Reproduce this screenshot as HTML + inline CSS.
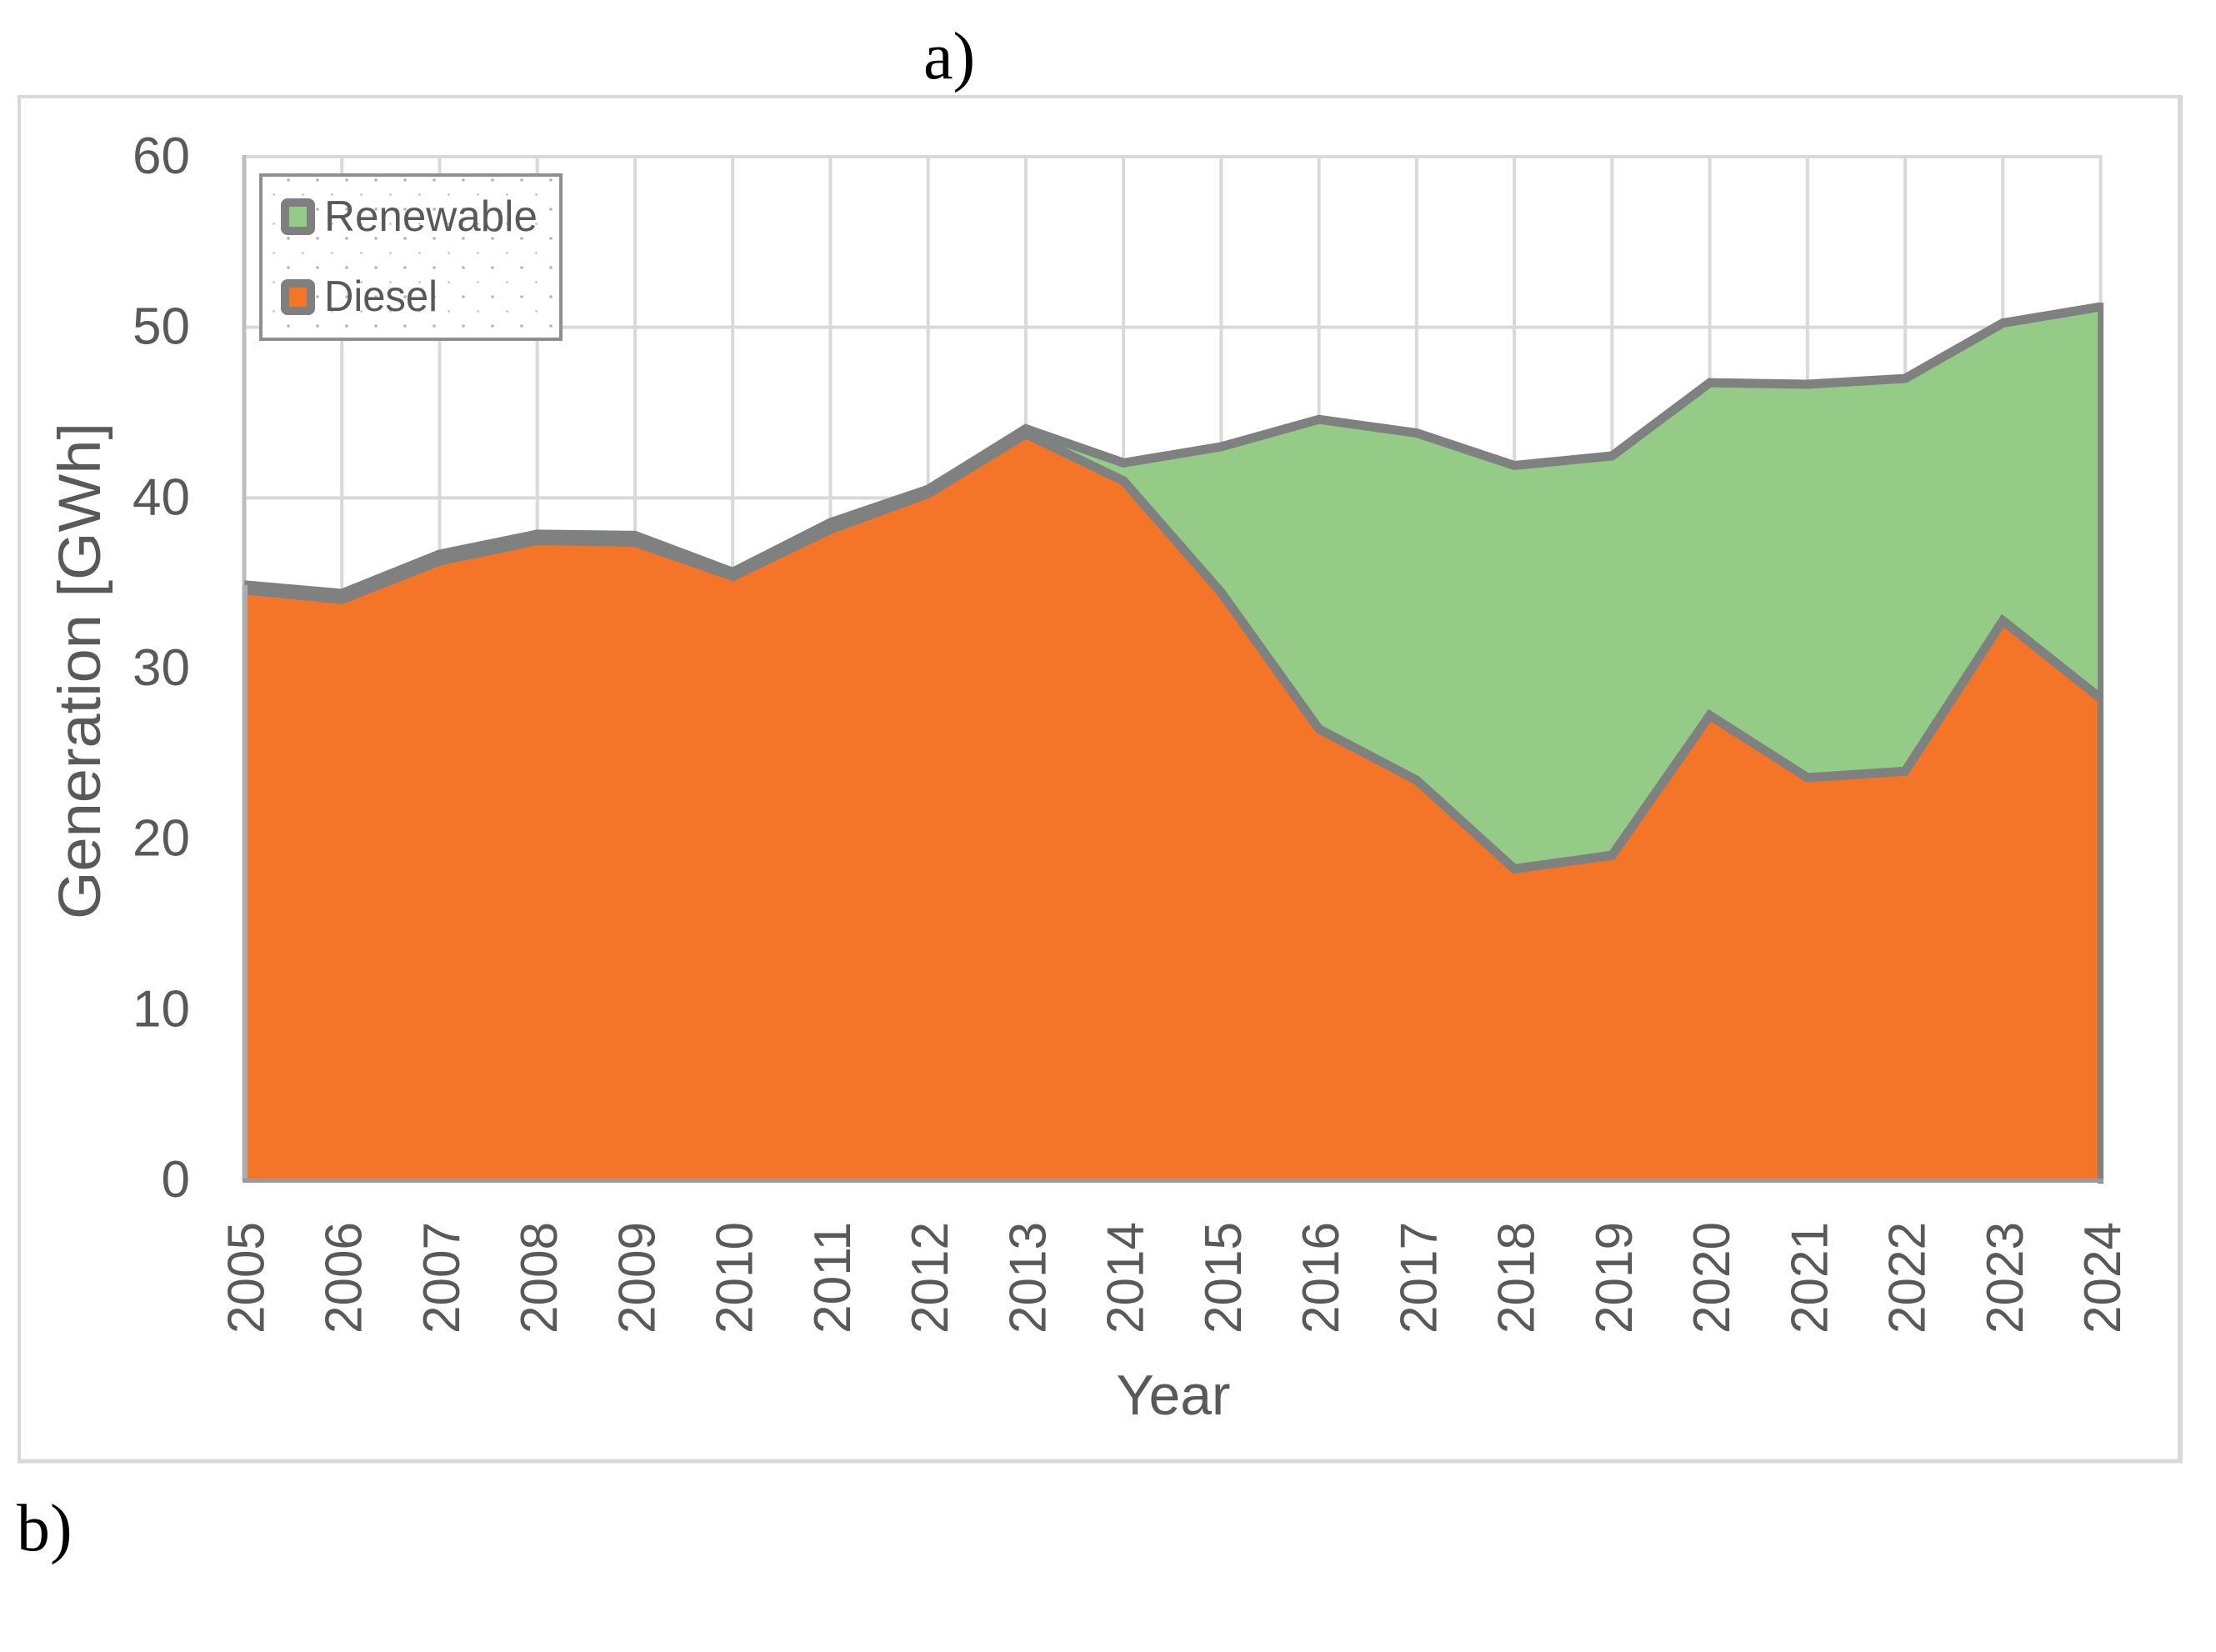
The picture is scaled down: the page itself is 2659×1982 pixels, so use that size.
<!DOCTYPE html>
<html lang="en">
<head>
<meta charset="utf-8">
<title>Generation by source, 2005–2024</title>
<style>
  html, body { margin: 0; padding: 0; background: #ffffff; }
  body { width: 2659px; height: 1982px; overflow: hidden; }
  svg { display: block; }
  text { font-family: "Liberation Sans", sans-serif; fill: #595959; }
  .serif { font-family: "Liberation Serif", serif; fill: #000000; font-size: 80px; }
</style>
</head>
<body>
<svg id="chart" xmlns="http://www.w3.org/2000/svg" width="2659" height="1982" viewBox="0 0 2659 1982">
  <defs>
    <clipPath id="plot-clip"><rect x="291" y="150" width="2233" height="1272"></rect></clipPath>
    <pattern id="legend-dots" x="346" y="216" width="35" height="35" patternUnits="userSpaceOnUse">
      <circle cx="0" cy="0" r="1.8" fill="#b4b4b4"></circle>
      <circle cx="35" cy="0" r="1.8" fill="#b4b4b4"></circle>
      <circle cx="0" cy="35" r="1.8" fill="#b4b4b4"></circle>
      <circle cx="35" cy="35" r="1.8" fill="#b4b4b4"></circle>
      <circle cx="17.5" cy="17.5" r="1.4" fill="#c4c4c4"></circle>
    </pattern>
  </defs>

  <rect x="0" y="0" width="2659" height="1982" fill="#ffffff"></rect>
  <text class="serif" x="1108" y="94">a)</text>
  <text class="serif" x="20" y="1860">b)</text>

  <g stroke="#d9d9d9" fill="none">
    <line x1="21" y1="116" x2="2619" y2="116" stroke-width="4"></line>
    <line x1="23" y1="114" x2="23" y2="1755" stroke-width="4"></line>
    <line x1="2616" y1="114" x2="2616" y2="1755" stroke-width="6"></line>
    <line x1="21" y1="1753" x2="2619" y2="1753" stroke-width="5"></line>
  </g>

  <g id="grid"></g>
  <g id="areas"></g>
  <g id="y-ticks"></g>
  <g id="x-ticks"></g>

  <text transform="translate(120,805) rotate(-90)" text-anchor="middle" font-size="71" textLength="596" lengthAdjust="spacingAndGlyphs">Generation [GWh]</text>
  <text x="1408" y="1697" text-anchor="middle" font-size="68" textLength="137" lengthAdjust="spacingAndGlyphs">Year</text>

  <g>
    <rect x="313" y="210" width="360" height="197" fill="#ffffff"></rect>
    <rect x="313" y="210" width="360" height="197" fill="url(#legend-dots)"></rect>
    <rect x="313" y="210" width="360" height="197" fill="none" stroke="#8f8f8f" stroke-width="4"></rect>
    <rect x="342" y="243" width="31" height="34" rx="3" fill="#94cc87" stroke="#7f7f7f" stroke-width="10"></rect>
    <text x="389" y="277" font-size="52" textLength="256" lengthAdjust="spacingAndGlyphs">Renewable</text>
    <rect x="342" y="340" width="31" height="33" rx="3" fill="#f47528" stroke="#7f7f7f" stroke-width="10"></rect>
    <text x="389" y="373" font-size="52" textLength="136" lengthAdjust="spacingAndGlyphs">Diesel</text>
  </g>
</svg>

<script>
const years = ["2005","2006","2007","2008","2009","2010","2011","2012","2013","2014","2015","2016","2017","2018","2019","2020","2021","2022","2023","2024"];
const dieselValues = [34.6,34.05,36.3,37.5,37.4,35.4,38.15,40.25,43.75,41.0,34.45,26.45,23.45,18.25,19.05,27.25,23.6,23.98,32.8,28.25];
const renewableValues = [0.3,0.35,0.4,0.37,0.4,0.25,0.4,0.25,0.3,1.05,8.55,18.15,20.35,23.65,23.41,19.5,23.06,23.02,17.45,22.95];
const yTickValues = [0,10,20,30,40,50,60];

const SVG_NS = "http://www.w3.org/2000/svg";
const plotLeft = 293, plotRight = 2520.5, plotTop = 188, plotBottom = 1416, yMax = 60;

function xPos(i) { return plotLeft + (plotRight - plotLeft) * i / (years.length - 1); }
function yPos(v) { return plotBottom - (plotBottom - plotTop) * v / yMax; }
function make(tag, parent, attrs) {
  const el = document.createElementNS(SVG_NS, tag);
  for (const k in attrs) el.setAttribute(k, attrs[k]);
  parent.appendChild(el);
  return el;
}

const gridGroup = document.getElementById("grid");
const areaGroup = document.getElementById("areas");
const yTickGroup = document.getElementById("y-ticks");
const xTickGroup = document.getElementById("x-ticks");

yTickValues.forEach(function (v) {
  const line = make("line", gridGroup, { x1: plotLeft, x2: plotRight, y1: yPos(v), y2: yPos(v), stroke: "#d9d9d9", "stroke-width": 4 });
  
  
  const label = make("text", yTickGroup, { x: 228, y: yPos(v) + 20, "text-anchor": "end", "font-size": 62 });
  label.textContent = String(v);
  
  
});

years.forEach(function (year, i) {
  const isFirst = i === 0;
  const line = make("line", gridGroup, { x1: xPos(i), x2: xPos(i), y1: plotTop - 2, y2: plotBottom, stroke: isFirst ? "#bdbdbd" : "#d9d9d9", "stroke-width": isFirst ? 5 : 4 });
  
  
  const label = make("text", xTickGroup, { transform: "translate(" + (xPos(i) + 23.5) + ",1466) rotate(-90)", "text-anchor": "end", "font-size": 62, textLength: 134, lengthAdjust: "spacingAndGlyphs" });
  label.textContent = year;
  
  
});

const dieselPts = dieselValues.map(function (v, i) { return xPos(i) + "," + yPos(v); });
const totalPts = dieselValues.map(function (v, i) { return xPos(i) + "," + yPos(v + renewableValues[i]); });
const lastIndex = years.length - 1;

const renewableArea = make("polygon", areaGroup, { points: totalPts.join(" ") + " " + dieselPts.slice().reverse().join(" "), fill: "#94cc87" });



const dieselArea = make("polygon", areaGroup, { points: dieselPts.join(" ") + " " + xPos(lastIndex) + "," + yPos(0) + " " + xPos(0) + "," + yPos(0), fill: "#f47528" });



const dieselLine = make("polyline", areaGroup, { points: dieselPts.join(" "), fill: "none", stroke: "#7f8080", "stroke-width": 11, "stroke-linejoin": "miter", "clip-path": "url(#plot-clip)" });



const totalLine = make("polyline", areaGroup, { points: totalPts.join(" "), fill: "none", stroke: "#7f8080", "stroke-width": 11, "stroke-linejoin": "miter", "clip-path": "url(#plot-clip)" });



const leftEdge = make("line", areaGroup, { x1: 294, x2: 294, y1: yPos(dieselValues[0] + renewableValues[0]), y2: plotBottom + 3, stroke: "#a9adb0", "stroke-width": 6 });



const rightEdge = make("line", areaGroup, { x1: plotRight, x2: plotRight, y1: yPos(dieselValues[lastIndex] + renewableValues[lastIndex]) - 5, y2: plotBottom + 4, stroke: "#7f8080", "stroke-width": 7 });



const baseEdge = make("line", areaGroup, { x1: 291, x2: 2524, y1: plotBottom + 0.5, y2: plotBottom + 0.5, stroke: "#9a9c9c", "stroke-width": 5 });


</script>
</body>
</html>
